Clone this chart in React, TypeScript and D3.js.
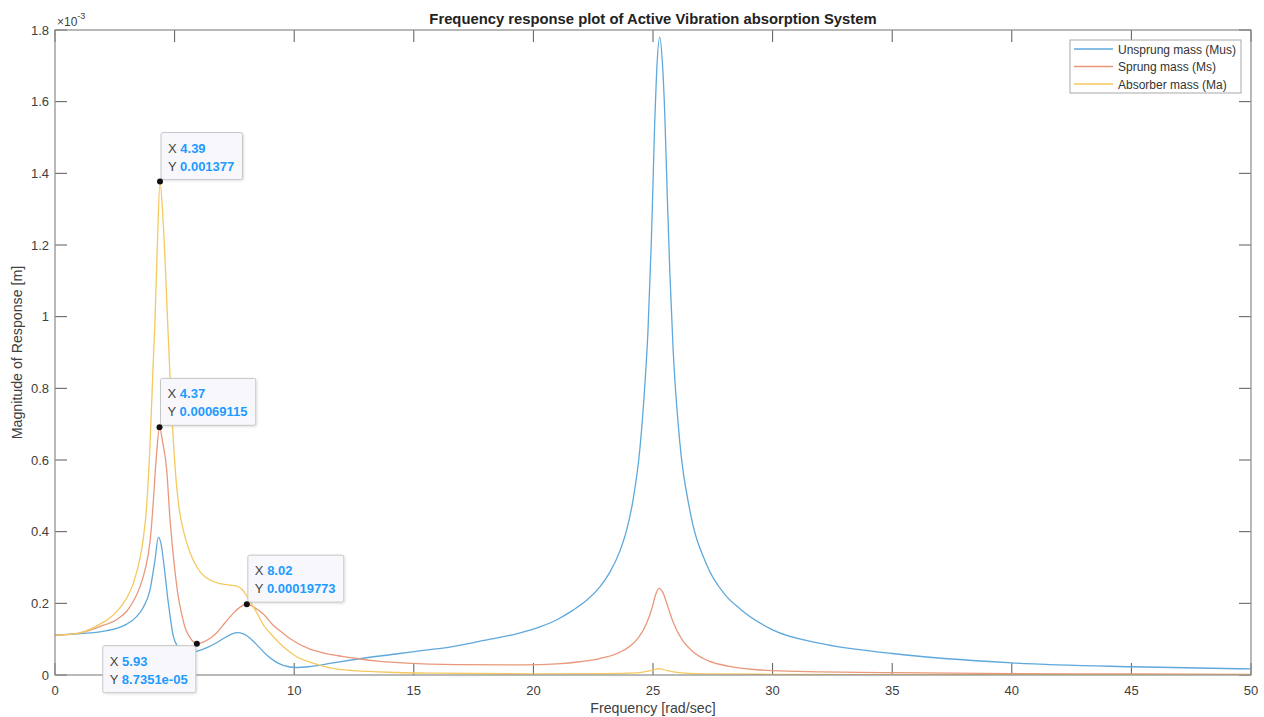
import React, { useMemo } from 'react';
import * as d3 from 'd3';

const W = 1264;
const H = 717;
const TITLE = 'Frequency response plot of Active Vibration absorption System';
const X_LABEL = 'Frequency [rad/sec]';
const Y_LABEL = 'Magnitude of Response [m]';
const X_TICKS = [0, 5, 10, 15, 20, 25, 30, 35, 40, 45, 50];
const Y_TICKS = [0, 0.2, 0.4, 0.6, 0.8, 1, 1.2, 1.4, 1.6, 1.8]; // x 1e-3
const Y_TICK_TEXT = ['0', '0.2', '0.4', '0.6', '0.8', '1', '1.2', '1.4', '1.6', '1.8'];
const SERIES_NAMES = ['Unsprung mass (Mus)', 'Sprung mass (Ms)', 'Absorber mass (Ma)'];
const SERIES_COLORS = ['#5ea8dc', '#ea987b', '#f4c95e'];

// magnitudes in units of 1e-3 m
const unsprungFreq = [0, 1.18, 2.0, 2.58, 3.0, 3.41, 3.7, 3.97, 4.18, 4.32, 4.45, 4.53, 4.74, 4.95, 5.15, 5.4, 5.65, 5.92, 6.4, 6.76, 7.2, 7.59, 7.9, 8.2, 8.5, 8.85, 9.2, 9.54, 10.1, 10.6, 11.63, 12.6, 14.4, 15.4, 16.5, 18.2, 19.3, 20.3, 21.0, 21.66, 22.2, 22.77, 23.2, 23.61, 23.9, 24.17, 24.45, 24.65, 24.79, 24.93, 25.0, 25.07, 25.15, 25.28, 25.4, 25.49, 25.6, 25.7, 25.84, 26.12, 26.54, 27.23, 28.0, 28.63, 30, 32, 35, 40, 45, 50];
const unsprungMag = [0.111, 0.116, 0.122, 0.130, 0.142, 0.163, 0.190, 0.237, 0.321, 0.384, 0.360, 0.321, 0.200, 0.107, 0.078, 0.064, 0.062, 0.066, 0.078, 0.090, 0.108, 0.118, 0.114, 0.100, 0.080, 0.056, 0.038, 0.027, 0.021, 0.023, 0.034, 0.044, 0.060, 0.069, 0.078, 0.100, 0.115, 0.135, 0.155, 0.181, 0.207, 0.245, 0.287, 0.345, 0.405, 0.490, 0.630, 0.800, 0.960, 1.210, 1.370, 1.540, 1.680, 1.780, 1.700, 1.570, 1.330, 1.130, 0.910, 0.650, 0.460, 0.310, 0.225, 0.185, 0.126, 0.088, 0.060, 0.034, 0.023, 0.017];

const sprungFreq = [0, 1.0, 1.88, 2.58, 3.0, 3.27, 3.55, 3.75, 3.97, 4.04, 4.11, 4.25, 4.37, 4.5, 4.67, 4.81, 5.01, 5.15, 5.29, 5.45, 5.64, 5.93, 6.2, 6.5, 6.76, 7.1, 7.45, 7.75, 8.02, 8.3, 8.71, 9.1, 9.54, 9.82, 10.66, 11.2, 12.0, 12.6, 13.6, 14.7, 16.8, 19.6, 21.0, 21.94, 22.77, 23.5, 24.03, 24.4, 24.73, 24.95, 25.1, 25.25, 25.4, 25.6, 25.84, 26.2, 26.67, 27.3, 28.2, 30, 32, 35, 40, 45, 50];
const sprungMag = [0.111, 0.117, 0.135, 0.155, 0.178, 0.205, 0.246, 0.290, 0.370, 0.420, 0.485, 0.620, 0.691, 0.650, 0.572, 0.433, 0.293, 0.220, 0.172, 0.130, 0.105, 0.0874, 0.092, 0.103, 0.118, 0.145, 0.172, 0.190, 0.1977, 0.190, 0.170, 0.140, 0.116, 0.102, 0.072, 0.062, 0.052, 0.046, 0.038, 0.033, 0.029, 0.028, 0.031, 0.037, 0.046, 0.060, 0.080, 0.105, 0.144, 0.185, 0.222, 0.242, 0.232, 0.195, 0.148, 0.100, 0.065, 0.040, 0.024, 0.012, 0.009, 0.0065, 0.004, 0.003, 0.002];

const absorberFreq = [0, 1.0, 1.88, 2.3, 2.58, 3.0, 3.27, 3.55, 3.69, 3.83, 3.97, 4.1, 4.18, 4.28, 4.39, 4.5, 4.6, 4.7, 4.81, 4.95, 5.08, 5.2, 5.36, 5.55, 5.78, 6.1, 6.48, 6.9, 7.31, 7.6, 7.87, 8.15, 8.43, 8.71, 8.98, 9.4, 9.82, 10.1, 10.66, 11.5, 12.5, 14.3, 16, 20, 23, 24.3, 24.9, 25.25, 25.6, 26.2, 27.5, 30, 35, 40, 50];
const absorberMag = [0.111, 0.117, 0.142, 0.160, 0.177, 0.215, 0.255, 0.325, 0.380, 0.470, 0.640, 0.860, 0.990, 1.200, 1.377, 1.290, 1.160, 1.000, 0.830, 0.650, 0.530, 0.460, 0.405, 0.360, 0.320, 0.285, 0.265, 0.255, 0.251, 0.248, 0.235, 0.205, 0.175, 0.140, 0.118, 0.088, 0.064, 0.051, 0.036, 0.020, 0.012, 0.007, 0.005, 0.003, 0.004, 0.006, 0.012, 0.018, 0.012, 0.006, 0.003, 0.002, 0.001, 0.001, 0.0005];

// data tips
const tipX = [4.39, 4.37, 8.02, 5.93];
const tipY = [0.001377, 0.00069115, 0.00019773, 8.7351e-05];
const tipXText = ['4.39', '4.37', '8.02', '5.93'];
const tipYText = ['0.001377', '0.00069115', '0.00019773', '8.7351e-05'];
const tipPlace = ['ne', 'ne', 'ne', 'sw'];

const FONT = '"Liberation Sans", Arial, Helvetica, sans-serif';

function measure(text: string, font: string): number {
  if (typeof document === 'undefined') return text.length * 7;
  const c = document.createElement('canvas');
  const ctx = c.getContext('2d');
  if (!ctx) return text.length * 7;
  ctx.font = font;
  return ctx.measureText(text).width;
}

export default function App() {
  const left = 55, right = 1251, top = 30, bottom = 675;
  const x = d3.scaleLinear().domain([0, 50]).range([left, right]);
  const y = d3.scaleLinear().domain([0, 1.8]).range([bottom, top]);

  const series = [
    { f: unsprungFreq, m: unsprungMag },
    { f: sprungFreq, m: sprungMag },
    { f: absorberFreq, m: absorberMag },
  ];

  const line = d3
    .line<[number, number]>()
    .x((d) => x(d[0]))
    .y((d) => y(d[1]))
    .curve(d3.curveMonotoneX);

  const tips = useMemo(() => {
    return tipX.map((tx, i) => {
      const mx = x(tx);
      const my = y(tipY[i] / 1e-3);
      const wLabel = measure('X ', `13px ${FONT}`);
      const wv1 = measure(tipXText[i], `bold 13px ${FONT}`);
      const wv2 = measure(tipYText[i], `bold 13px ${FONT}`);
      const w = Math.max(wLabel + wv1, measure('Y ', `13px ${FONT}`) + wv2) + 15;
      const h = 47;
      let bx = mx + 1;
      let by = my - 2 - h;
      if (tipPlace[i] === 'sw') {
        bx = mx - 1 - w;
        by = my + 2;
      }
      return { mx, my, bx, by, w, h, i };
    });
  }, []);

  // tick labels hidden behind a data tip box (as in the original figure)
  const coveredByTip = (px: number, py: number) =>
    tips.some((t) => px >= t.bx && px <= t.bx + t.w && py >= t.by && py <= t.by + t.h);

  const tickLen = 12;
  const axisColor = '#8a8a8a';
  const tickColor = '#5a5a5a';
  const textColor = '#404040';

  return (
    <svg
      width={W}
      height={H}
      style={{ position: 'absolute', left: 0, top: 0, background: '#fff' }}
      fontFamily={FONT}
    >
      <defs>
        <clipPath id="plotClip">
          <rect x={left} y={top - 2} width={right - left} height={bottom - top + 2} />
        </clipPath>
        <filter id="tipShadow" x="-10%" y="-10%" width="130%" height="140%">
          <feDropShadow dx="1" dy="1" stdDeviation="1" floodColor="#000" floodOpacity="0.12" />
        </filter>
      </defs>
      <rect x={0} y={0} width={W} height={H} fill="#fff" />

      {/* title */}
      <text x={(left + right) / 2} y={24} textAnchor="middle" fontWeight="bold" fontSize={14.8} fill="#222">
        {TITLE}
      </text>

      {/* exponent */}
      <text x={57} y={26} fontSize={12} fill={textColor}>
        ×10
        <tspan fontSize={9} dy={-7}>-3</tspan>
      </text>

      {/* ticks */}
      {X_TICKS.map((t) => (
        <g key={'xt' + t}>
          <line x1={x(t)} x2={x(t)} y1={bottom} y2={bottom - tickLen} stroke={tickColor} strokeWidth={1} />
          <line x1={x(t)} x2={x(t)} y1={top} y2={top + tickLen} stroke={tickColor} strokeWidth={1} />
          {!coveredByTip(x(t), 690) && (
            <text x={x(t)} y={695} textAnchor="middle" fontSize={13} fill={textColor}>
              {t}
            </text>
          )}
        </g>
      ))}
      {Y_TICKS.map((t, i) => (
        <g key={'yt' + t}>
          <line x1={left} x2={left + tickLen} y1={y(t)} y2={y(t)} stroke={tickColor} strokeWidth={1} />
          <line x1={right} x2={right - tickLen} y1={y(t)} y2={y(t)} stroke={tickColor} strokeWidth={1} />
          <text x={49} y={y(t) + 4.5} textAnchor="end" fontSize={13} fill={textColor}>
            {Y_TICK_TEXT[i]}
          </text>
        </g>
      ))}

      {/* series */}
      <g clipPath="url(#plotClip)">
        {series.map((s, i) => (
          <path
            key={'s' + i}
            d={line(s.f.map((f, k) => [f, s.m[k]] as [number, number])) || ''}
            fill="none"
            stroke={SERIES_COLORS[i]}
            strokeWidth={1.3}
          />
        ))}
      </g>

      {/* frame */}
      <rect x={left} y={top} width={right - left} height={bottom - top} fill="none" stroke={axisColor} strokeWidth={1.2} />

      {/* axis labels */}
      <text x={(left + right) / 2} y={713} textAnchor="middle" fontSize={14.2} fill={textColor}>
        {X_LABEL}
      </text>
      <text
        transform={`translate(22, ${(top + bottom) / 2}) rotate(-90)`}
        textAnchor="middle"
        fontSize={14.2}
        fill={textColor}
      >
        {Y_LABEL}
      </text>

      {/* legend */}
      <g>
        <rect x={1070} y={40} width={171} height={53} fill="#fff" stroke="#a8a8a8" strokeWidth={1} />
        {SERIES_NAMES.map((n, i) => (
          <g key={'lg' + i}>
            <line x1={1074} x2={1113} y1={49 + i * 17.5} y2={49 + i * 17.5} stroke={SERIES_COLORS[i]} strokeWidth={1.3} />
            <text x={1118} y={53.5 + i * 17.5} fontSize={12} fill="#333">
              {n}
            </text>
          </g>
        ))}
      </g>

      {/* data tips */}
      {tips.map((t) => (
        <g key={'tip' + t.i}>
          <rect x={t.bx} y={t.by} width={t.w} height={t.h} rx={2} fill="#f8f8fc" stroke="#c6c6c6" strokeWidth={1} filter="url(#tipShadow)" />
          <text x={t.bx + 7} y={t.by + 20} fontSize={13} fill="#444">
            X <tspan fontWeight="bold" fill="#1f9bff">{tipXText[t.i]}</tspan>
          </text>
          <text x={t.bx + 7} y={t.by + 38} fontSize={13} fill="#444">
            Y <tspan fontWeight="bold" fill="#1f9bff">{tipYText[t.i]}</tspan>
          </text>
          <circle cx={t.mx} cy={t.my} r={3} fill="#111" />
        </g>
      ))}
    </svg>
  );
}
